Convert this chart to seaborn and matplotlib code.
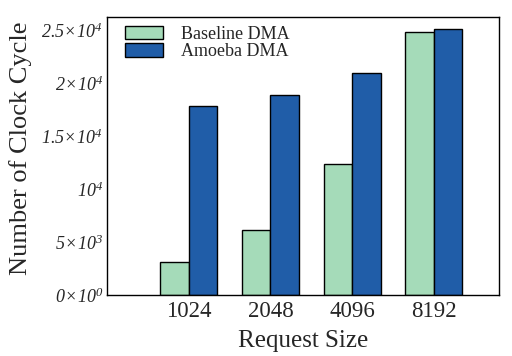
import pandas as pd
import matplotlib
matplotlib.use('Agg')
import matplotlib.pyplot as plt
import seaborn as sns

# values
sizes = ['1024', '2048', '4096', '8192']
baseline = [3100, 6150, 12400, 24800]
amoeba = [17800, 18900, 20900, 25050]
series = ['Baseline DMA', 'Amoeba DMA']
yticks = [0, 5000, 10000, 15000, 20000, 25000]
ytick_labels = [r'$0\!\times\!10^{0}$', r'$5\!\times\!10^{3}$', r'$10^{4}$',
                r'$1.5\!\times\!10^{4}$', r'$2\!\times\!10^{4}$', r'$2.5\!\times\!10^{4}$']

df = pd.DataFrame({
    'size': sizes * 2,
    'cycles': baseline + amoeba,
    'kind': [series[0]] * len(sizes) + [series[1]] * len(sizes),
})

sns.set_style('white')
plt.rcParams['font.family'] = ['Liberation Serif', 'DejaVu Serif']
plt.rcParams['mathtext.fontset'] = 'custom'
plt.rcParams['mathtext.it'] = 'Liberation Serif:italic'
plt.rcParams['mathtext.rm'] = 'Liberation Serif:italic'
plt.rcParams['mathtext.default'] = 'it'

fig = plt.figure(figsize=(5.12, 3.56), dpi=100)
ax = fig.add_axes([0.209, 0.171, 0.766, 0.781])

colors = ['#a5dbb9', '#205da8']
sns.barplot(data=df, x='size', y='cycles', hue='kind', order=sizes,
            hue_order=series, palette=colors, width=0.7,
            edgecolor='black', linewidth=1, saturation=1, ax=ax)

ax.set_xlim(-1.0, 3.8)
ax.set_ylim(0, 26200)
ax.set_yticks(yticks)
ax.set_yticklabels(ytick_labels, fontsize=13)
ax.tick_params(axis='x', labelsize=16.5, length=0, pad=4)
ax.tick_params(axis='y', length=0, pad=3)

ax.set_xlabel('Request Size', fontsize=18, labelpad=6)
ax.set_ylabel('Number of Clock Cycle', fontsize=19)
ax.yaxis.set_label_coords(-0.19, 0.53)

for s in ax.spines.values():
    s.set_color('black')
    s.set_linewidth(1.0)

handles, labels = ax.get_legend_handles_labels()
ax.legend(handles, labels, loc='upper left', frameon=False, fontsize=13,
          handlelength=2.1, handleheight=0.75, handletextpad=1.0,
          labelspacing=0.02, borderaxespad=0.4, bbox_to_anchor=(0.01, 1.02))

fig.savefig('out.png', dpi=100)
